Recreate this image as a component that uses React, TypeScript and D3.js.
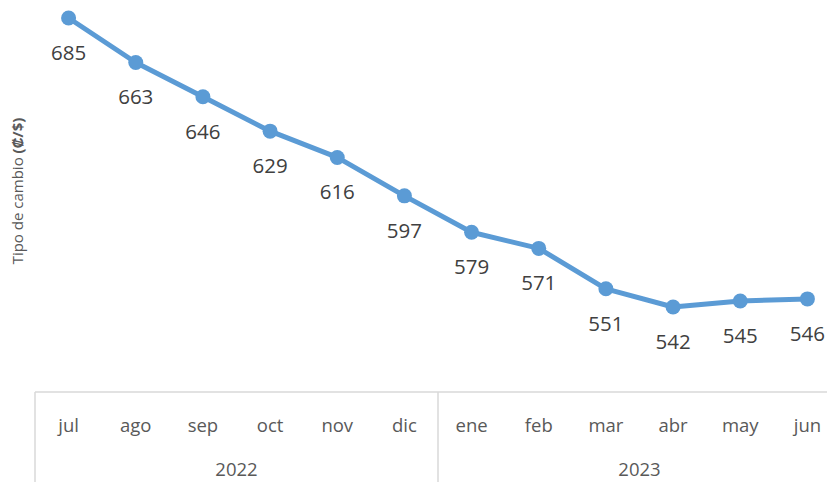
import React from "react";
import * as d3 from "d3";

const months = ["jul", "ago", "sep", "oct", "nov", "dic", "ene", "feb", "mar", "abr", "may", "jun"];
const years = ["2022", "2022", "2022", "2022", "2022", "2022", "2023", "2023", "2023", "2023", "2023", "2023"];
const values = [685, 663, 646, 629, 616, 597, 579, 571, 551, 542, 545, 546];
const yearGroups = ["2022", "2023"];

const W = 827;
const H = 482;

export default function App() {
  const x = d3.scaleBand<number>().domain(d3.range(months.length)).range([35, 841]).padding(0);
  const y = d3.scaleLinear().domain([685, 542]).range([18, 307]);
  const cx = (i: number) => (x(i) as number) + x.bandwidth() / 2;
  const line = d3.line<number>().x((_, i) => cx(i)).y((d) => y(d));
  const axisY = 392;
  const font = "'Open Sans', 'Liberation Sans', sans-serif";

  const groups = yearGroups.map((g) => {
    const idx = years.map((yy, i) => (yy === g ? i : -1)).filter((i) => i >= 0);
    const x0 = x(idx[0]) as number;
    const x1 = (x(idx[idx.length - 1]) as number) + x.bandwidth();
    return { g, x0, x1 };
  });

  return (
    <svg width={W} height={H} style={{ position: "fixed", left: 0, top: 0, background: "#fff" }}>
      <text
        transform={`translate(23,${191}) rotate(-90)`}
        textAnchor="middle"
        fontFamily={font}
        fontSize={15}
        fill="#595959"
      >
        Tipo de cambio <tspan fontWeight="bold">(₡/$)</tspan>
      </text>

      <line x1={35} x2={W} y1={axisY} y2={axisY} stroke="#d9d9d9" strokeWidth={1.5} />
      {groups.map((gr, i) => (
        <line key={"v" + i} x1={gr.x0} x2={gr.x0} y1={axisY} y2={H} stroke="#d9d9d9" strokeWidth={1.5} />
      ))}

      {months.map((m, i) => (
        <text key={m} x={cx(i)} y={424} textAnchor="middle" dominantBaseline="central" fontFamily={font} fontSize={18.5} fill="#595959">
          {m}
        </text>
      ))}
      {groups.map((gr) => (
        <text key={gr.g} x={(gr.x0 + gr.x1) / 2} y={468} textAnchor="middle" dominantBaseline="central" fontFamily={font} fontSize={18.5} fill="#595959">
          {gr.g}
        </text>
      ))}

      <path d={line(values) as string} fill="none" stroke="#5B9BD5" strokeWidth={5} strokeLinejoin="round" />
      {values.map((v, i) => (
        <circle key={i} cx={cx(i)} cy={y(v)} r={7.5} fill="#5B9BD5" />
      ))}
      {values.map((v, i) => (
        <text key={"l" + i} x={cx(i)} y={y(v) + 34} textAnchor="middle" dominantBaseline="central" fontFamily={font} fontSize={20.5} fill="#404040">
          {v}
        </text>
      ))}
    </svg>
  );
}
